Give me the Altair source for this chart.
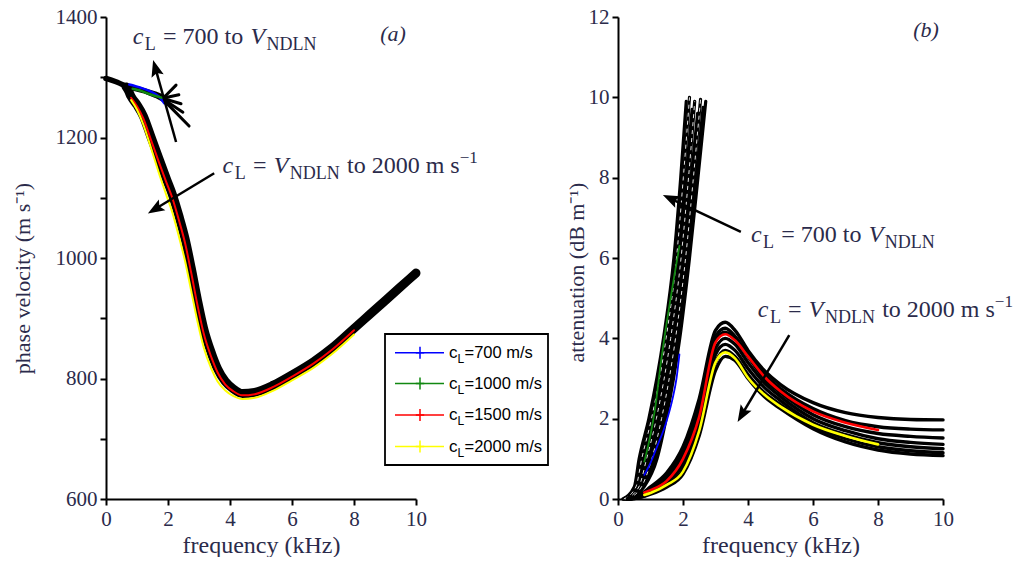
import math
import altair as alt
import pandas as pd

TXT = "#2b2b4b"
SERIF = "Liberation Serif"
SANS = "Liberation Sans"

# ---------------- panel (a): phase velocity ----------------
A_LEAD_F = [0, 0.3, 0.65]
A_LEAD_V = [1298, 1293, 1285]
A_BAND_F = [0.65, 0.72, 0.81, 1.0, 1.2, 1.45, 1.7, 1.95, 2.15, 2.35, 2.55, 2.75, 2.95, 3.15, 3.4, 3.6, 3.85, 4.1, 4.4, 4.8, 5.4, 6.0, 6.7, 7.3, 8.0, 8.5, 9.0, 9.5, 10.0]
A_BAND_V = [1284, 1278, 1268, 1254, 1236, 1201, 1166, 1131, 1104, 1070, 1032, 983, 930, 883, 842, 816, 795, 783, 775, 777, 789, 806, 828, 851, 883, 906, 929, 952, 975]

A_COL_F = [0.81, 1.0, 1.2, 1.45, 1.7, 1.95, 2.15, 2.35, 2.55, 2.75, 2.95, 3.15, 3.4, 3.6, 3.85, 4.1, 4.4, 4.8, 5.4, 6.0, 6.7, 7.3, 8.0]
A_RED_V = [1266, 1252, 1232, 1196, 1160, 1125, 1098, 1063, 1025, 975, 922, 875, 835, 810, 790, 779, 772, 774, 786, 803, 825, 848, 880]
A_YEL_V = [1262, 1246, 1222, 1183, 1142, 1104, 1074, 1036, 995, 945, 895, 852, 816, 795, 780, 771, 766, 768, 780, 797, 818, 841, 873]

A_BLUE_F = [0.75, 1.1, 1.45, 1.7, 1.88]
A_BLUE_V = [1288, 1283, 1276, 1268, 1257]
A_GREEN_F = [0.86, 1.1, 1.34, 1.6, 1.8]
A_GREEN_V = [1281, 1278, 1273, 1269, 1266]

# fan of curves c_L = 700 .. V_NDLN (ending in spikes)
A_FAN_F = [[0.65, 1.2, 1.6, 1.9, 2.26],
           [0.65, 1.2, 1.6, 1.9, 2.35],
           [0.65, 1.2, 1.6, 1.9, 2.42],
           [0.65, 1.2, 1.6, 1.9, 2.48],
           [0.65, 1.2, 1.6, 1.9, 2.68]]
A_FAN_V = [[1286, 1280, 1274, 1268, 1287],
           [1285, 1279, 1272, 1266, 1271],
           [1284, 1278, 1271, 1264, 1256],
           [1284, 1277, 1270, 1262, 1242],
           [1283, 1276, 1268, 1260, 1219]]

# ---------------- panel (b): attenuation ----------------
B_STEEP_A = [0, 0.3, 1, 2, 4, 6, 8]
B_STEEP_F = [[0.15, 0.5, 0.65, 0.95, 1.4, 1.72, 1.93, 2.1],
             [0.18, 0.55, 0.73, 1.03, 1.48, 1.8, 2.01, 2.2],
             [0.2, 0.6, 0.8, 1.1, 1.55, 1.87, 2.09, 2.28],
             [0.23, 0.64, 0.88, 1.18, 1.62, 1.94, 2.17, 2.36],
             [0.25, 0.68, 0.96, 1.26, 1.7, 2.02, 2.25, 2.45],
             [0.28, 0.72, 1.04, 1.34, 1.77, 2.08, 2.32, 2.54],
             [0.3, 0.76, 1.12, 1.41, 1.84, 2.15, 2.4, 2.62],
             [0.33, 0.8, 1.2, 1.48, 1.9, 2.2, 2.46, 2.7]]
B_STEEP_TOP = [9.9, 10.0, 9.7, 9.9, 9.6, 9.95, 9.75, 9.9]

B_PEAK_F = [0.3, 0.5, 1.0, 1.5, 2.0, 2.5, 3.0, 3.3, 3.6, 4.0, 4.5, 5.0, 6.0, 7.0, 8.0, 9.0, 10.0]
B_PEAK_A = [[0, 0.03, 0.3, 0.65, 1.3, 2.5, 4.2, 4.4, 4.2, 3.7, 3.2, 2.85, 2.4, 2.15, 2.03, 1.98, 1.97],
            [0, 0.03, 0.27, 0.58, 1.18, 2.3, 4.05, 4.25, 4.05, 3.6, 3.1, 2.75, 2.25, 1.95, 1.8, 1.74, 1.72],
            [0, 0.02, 0.24, 0.52, 1.08, 2.15, 3.95, 4.15, 3.98, 3.55, 3.0, 2.65, 2.1, 1.8, 1.63, 1.56, 1.52],
            [0, 0.02, 0.2, 0.45, 0.95, 2.0, 3.75, 4.0, 3.85, 3.4, 2.9, 2.55, 2.0, 1.7, 1.5, 1.41, 1.36],
            [0, 0.02, 0.17, 0.4, 0.85, 1.85, 3.6, 3.85, 3.7, 3.25, 2.78, 2.45, 1.9, 1.6, 1.4, 1.3, 1.25],
            [0, 0.01, 0.14, 0.34, 0.72, 1.72, 3.4, 3.7, 3.55, 3.1, 2.65, 2.35, 1.82, 1.5, 1.3, 1.2, 1.15],
            [0, 0.01, 0.12, 0.3, 0.62, 1.58, 3.2, 3.55, 3.45, 3.0, 2.55, 2.25, 1.75, 1.42, 1.22, 1.12, 1.08]]

B_COL_F = [0.81, 1.0, 1.5, 2.0, 2.5, 3.0, 3.3, 3.6, 4.0, 4.5, 5.0, 6.0, 7.0, 8.0]
B_RED_A = [0.16, 0.22, 0.45, 1.0, 2.05, 3.9, 4.1, 3.95, 3.55, 3.05, 2.68, 2.18, 1.9, 1.72]
B_YEL_A = [0.1, 0.15, 0.35, 0.68, 1.7, 3.4, 3.65, 3.5, 3.02, 2.6, 2.3, 1.85, 1.57, 1.36]

B_GREEN_F = [0.81, 1.0, 1.15, 1.32, 1.5, 1.7, 1.89]
B_GREEN_A = [0.93, 1.6, 2.3, 3.4, 4.4, 5.4, 6.3]
B_BLUE_F = [0.81, 1.0, 1.2, 1.48, 1.68, 1.8, 1.89]
B_BLUE_A = [0.6, 0.9, 1.3, 1.9, 2.5, 3.0, 3.6]

LEGEND_LABELS = ["=700 m/s", "=1000 m/s", "=1500 m/s", "=2000 m/s"]
LEGEND_COLORS = ["#0000ff", "#118811", "#ff0000", "#ffff00"]

# ---------------- geometry ----------------
A_W, B_W, H = 310, 325, 482
A_DOM_X, A_DOM_Y = [0, 10], [600, 1400]
B_DOM_X, B_DOM_Y = [0, 10], [0, 12]

AX_A_X = alt.Axis(values=[0, 2, 4, 6, 8, 10], title="frequency (kHz)", format="d", labelFlush=False)
AX_A_Y = alt.Axis(values=list(range(600, 1401, 100)), format="d",
                  labelExpr="datum.value % 200 == 0 ? datum.label : ''",
                  title="phase velocity  (m s\u207b\u00b9)", titleX=-72, titleY=261, titleFontSize=22)
AX_B_X = alt.Axis(values=[0, 2, 4, 6, 8, 10], title="frequency (kHz)", format="d", labelFlush=False)
AX_B_Y = alt.Axis(values=[0, 2, 4, 6, 8, 10, 12], format="d",
                  title="attenuation  (dB m\u207b\u00b9)", titleX=-30, titleY=255, titleFontSize=22)


def enc(panel):
    if panel == "a":
        return dict(x=alt.X("x:Q", scale=alt.Scale(domain=A_DOM_X, nice=False), axis=AX_A_X),
                    y=alt.Y("y:Q", scale=alt.Scale(domain=A_DOM_Y, nice=False, zero=False), axis=AX_A_Y))
    return dict(x=alt.X("x:Q", scale=alt.Scale(domain=B_DOM_X, nice=False), axis=AX_B_X),
                y=alt.Y("y:Q", scale=alt.Scale(domain=B_DOM_Y, nice=False), axis=AX_B_Y))


def px_scale(panel):
    if panel == "a":
        return A_W / (A_DOM_X[1] - A_DOM_X[0]), H / (A_DOM_Y[1] - A_DOM_Y[0])
    return B_W / (B_DOM_X[1] - B_DOM_X[0]), H / (B_DOM_Y[1] - B_DOM_Y[0])


def curves_df(curves):
    rows = []
    for i, (fx, fy, col) in enumerate(curves):
        for x, y in zip(fx, fy):
            rows.append({"x": x, "y": y, "id": i, "c": col})
    return pd.DataFrame(rows)


def lines(panel, curves, width, interp="monotone", dash=None):
    kw = dict(strokeWidth=width, interpolate=interp, strokeCap="round", strokeJoin="round")
    if dash:
        kw = dict(strokeWidth=width, interpolate=interp, strokeDash=dash)
    return alt.Chart(curves_df(curves)).mark_line(**kw).encode(
        detail="id:N", color=alt.Color("c:N", scale=None), **enc(panel))


HEAD = "M0,-1L0.7,0.85L0,0.5L-0.7,0.85Z"
HEAD_R = 9.0


def arrow(panel, tail, tip):
    sx, sy = px_scale(panel)
    dxp = (tip[0] - tail[0]) * sx
    dyp = -(tip[1] - tail[1]) * sy
    L = math.hypot(dxp, dyp)
    ux, uy = dxp / L, dyp / L
    ang = math.degrees(math.atan2(ux, -uy)) % 360
    cx = tip[0] - HEAD_R * ux / sx
    cy = tip[1] + HEAD_R * uy / sy
    line = alt.Chart(pd.DataFrame({"x": [tail[0], cx], "y": [tail[1], cy]})).mark_line(
        color="black", strokeWidth=2.5).encode(**enc(panel))
    head = alt.Chart(pd.DataFrame({"x": [cx], "y": [cy]})).mark_point(
        shape=HEAD, filled=True, color="black", opacity=1, size=(2 * HEAD_R) ** 2,
        angle=ang, strokeWidth=0).encode(**enc(panel))
    return [line, head]


EM = {' ': .25, '=': .564, '0': .5, '1': .5, '2': .5, '7': .5, 't': .278, 'o': .5, 'm': .778,
      's': .389, 'c': .444, 'L': .611, 'V': .611, 'N': .722, 'D': .722, '\u2212': .564}
SPACE = 0.3


def width_of(s, size):
    return sum(EM.get(ch, 0.5) for ch in s) * size


def rich(panel, pos, pieces, font=SERIF):
    out = []
    dx = 0.0
    for s, size, style, dy in pieces:
        core = s.strip()
        lead = len(s) - len(s.lstrip())
        trail = len(s) - len(s.rstrip())
        dx += lead * SPACE * size
        out.append(alt.Chart(pd.DataFrame({"x": [pos[0]], "y": [pos[1]]})).mark_text(
            text=core, align="left", baseline="alphabetic", dx=dx, dy=dy, fontSize=size,
            fontStyle=style, font=font, color=TXT).encode(**enc(panel)))
        dx += width_of(core, size) + (1.5 if style == "italic" else 0) + trail * SPACE * size
    return out


MS, SS = 24, 18
PIECES_700 = [("c", MS, "italic", 0), ("L", SS, "normal", 6), (" = 700 to ", MS, "normal", 0),
              ("V", MS, "italic", 0), ("NDLN", SS, "normal", 6)]
PIECES_2000 = [("c", MS, "italic", 0), ("L", SS, "normal", 6), (" = ", MS, "normal", 0),
               ("V", MS, "italic", 0), ("NDLN", SS, "normal", 6), (" to 2000 m s", MS, "normal", 0),
               ("\u22121", 17, "normal", -10)]

# ---------------- panel (a) layers ----------------
a_layers = []
a_layers.append(lines("a", [(A_LEAD_F, A_LEAD_V, "black")], 5.5))
a_layers.append(lines("a", [(A_BAND_F, A_BAND_V, "black")], 9))
a_layers.append(lines("a", [(f, v, "black") for f, v in zip(A_FAN_F, A_FAN_V)], 3, "linear"))
a_layers.append(lines("a", [(A_BLUE_F, A_BLUE_V, LEGEND_COLORS[0]), (A_GREEN_F, A_GREEN_V, LEGEND_COLORS[1])], 2.5))
a_layers.append(lines("a", [(A_COL_F, A_RED_V, LEGEND_COLORS[2]), (A_COL_F, A_YEL_V, LEGEND_COLORS[3])], 2))
a_layers += arrow("a", (2.26, 1192.5), (1.52, 1328.6))
a_layers += arrow("a", (3.49, 1140.6), (1.35, 1074))
a_layers += rich("a", (0.86, 1355), PIECES_700)
a_layers += rich("a", (3.76, 1140.6), PIECES_2000)
a_layers.append(alt.Chart(pd.DataFrame({"x": [9.26], "y": [1372]})).mark_text(
    text="(a)", fontStyle="italic", font=SERIF, fontSize=22, color=TXT, baseline="middle").encode(**enc("a")))

# legend (drawn in pixel space of panel a)
one = pd.DataFrame({"k": [0]})
a_layers.append(alt.Chart(one).mark_rect(fill="white", stroke="black", strokeWidth=1.8).encode(
    x=alt.value(279), x2=alt.value(442), y=alt.value(317), y2=alt.value(448)))
LEG_Y = [335.7, 366.5, 398, 429.5]
for yy, col, lab in zip(LEG_Y, LEGEND_COLORS, LEGEND_LABELS):
    a_layers.append(alt.Chart(one).mark_rule(color=col, strokeWidth=1.5).encode(
        x=alt.value(289), x2=alt.value(338), y=alt.value(yy)))
    a_layers.append(alt.Chart(one).mark_point(shape="M0,-1L0,1M-0.7,0L0.7,0", filled=False, color=col,
                                              strokeWidth=1.5, size=144, opacity=1).encode(
        x=alt.value(314), y=alt.value(yy)))
    a_layers.append(alt.Chart(one).mark_text(text="c", font=SANS, fontSize=17, color="black",
                                             align="left", baseline="middle").encode(
        x=alt.value(343), y=alt.value(yy)))
    a_layers.append(alt.Chart(one).mark_text(text="L", font=SANS, fontSize=12, color="black",
                                             align="left", baseline="middle").encode(
        x=alt.value(351.5), y=alt.value(yy + 6)))
    a_layers.append(alt.Chart(one).mark_text(text=lab, font=SANS, fontSize=16.5, color="black",
                                             align="left", baseline="middle").encode(
        x=alt.value(358.5), y=alt.value(yy)))

left = alt.layer(*a_layers).properties(width=A_W, height=H)

# ---------------- panel (b) layers ----------------
b_layers = []
steep = [(fl, B_STEEP_A + [top], "black") for fl, top in zip(B_STEEP_F, B_STEEP_TOP)]
b_layers.append(lines("b", steep, 3.2))
gaps = [(B_STEEP_F[i], B_STEEP_A + [B_STEEP_TOP[i]], "white") for i in (1, 3, 5)]
b_layers.append(lines("b", gaps, 0.9, dash=[4, 4]))
b_layers.append(lines("b", [(B_PEAK_F, al, "black") for al in B_PEAK_A], 3.4))
b_layers.append(lines("b", [(B_GREEN_F, B_GREEN_A, LEGEND_COLORS[1]), (B_BLUE_F, B_BLUE_A, LEGEND_COLORS[0])], 1.8))
b_layers.append(lines("b", [(B_COL_F, B_RED_A, LEGEND_COLORS[2]), (B_COL_F, B_YEL_A, LEGEND_COLORS[3])], 2.6))
b_layers += arrow("b", (3.78, 6.65), (1.38, 7.57))
b_layers += arrow("b", (5.27, 4.08), (3.68, 1.92))
b_layers += rich("b", (4.09, 6.4), PIECES_700)
b_layers += rich("b", (4.3, 4.54), PIECES_2000)
b_layers.append(alt.Chart(pd.DataFrame({"x": [9.48], "y": [11.68]})).mark_text(
    text="(b)", fontStyle="italic", font=SERIF, fontSize=22, color=TXT, baseline="middle").encode(**enc("b")))

right = alt.layer(*b_layers).properties(width=B_W, height=H)

chart = alt.hconcat(left, right, spacing=202, bounds="flush",
                    padding={"left": 11, "top": 6, "right": 0, "bottom": 0}).configure_view(
    stroke=None
).configure_axis(
    domainColor="black", domainWidth=2, tickColor="black", tickWidth=2, tickSize=6,
    labelFont=SERIF, labelFontSize=21, labelColor=TXT, labelPadding=3,
    titleFont=SERIF, titleFontSize=24, titleColor=TXT, titleFontWeight="normal", grid=False
)

chart.save("out.html", embed_options={"renderer": "svg", "actions": False})
